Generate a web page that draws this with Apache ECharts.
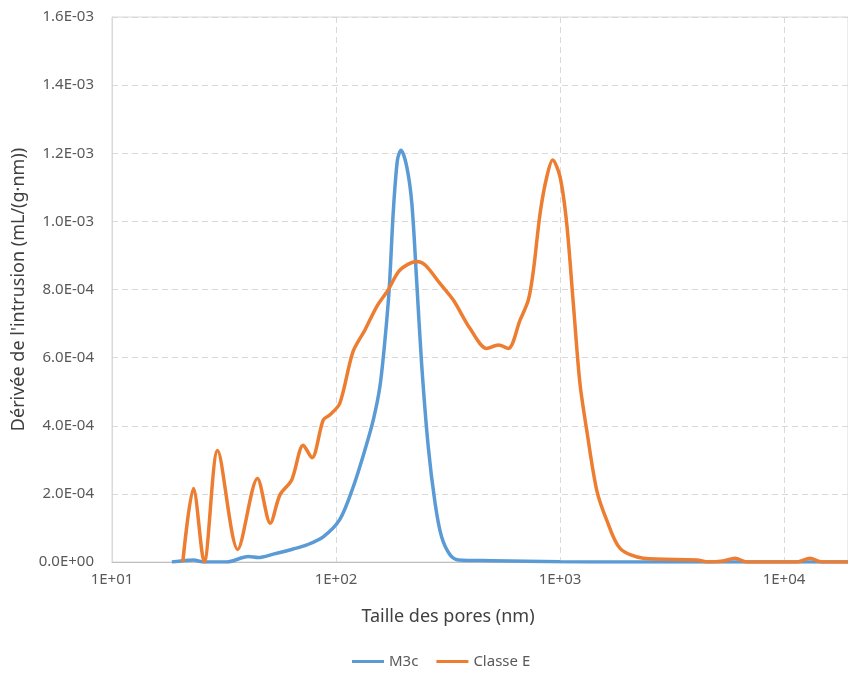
<!DOCTYPE html>
<html>
<head>
<meta charset="utf-8">
<script src="https://cdn.jsdelivr.net/npm/echarts@6/dist/echarts.min.js"></script>
<style>
  html, body { margin: 0; padding: 0; background: #ffffff; }
  #chart { width: 848px; height: 675px; }
</style>
</head>
<body>
<div id="chart"></div>
<script>
// Pore size (nm) and intrusion derivative (mL/(g·nm)) for each sample
const m3cSize = [18.5, 23.1, 25.6, 32.5, 40.6, 45, 52.5, 64.4, 74, 87.7, 104, 119.4, 134.6, 146.7, 157, 165.4, 173, 180, 188, 195, 207, 218, 229, 241, 258, 277, 296, 323, 352, 500, 1000, 2000, 19300];
const m3cValue = [0, 6e-6, 0, 0, 1.6e-5, 1.3e-5, 2.3e-5, 3.8e-5, 5.0e-5, 7.4e-5, 1.25e-4, 2.21e-4, 3.29e-4, 4.17e-4, 5.15e-4, 6.52e-4, 8.08e-4, 1.024e-3, 1.18e-3, 1.209e-3, 1.16e-3, 1.053e-3, 8.28e-4, 5.83e-4, 3.39e-4, 1.72e-4, 7.4e-5, 2.1e-5, 6e-6, 4e-6, 1e-6, 0, 0];

const classeESize = [20.7, 23.1, 25.8, 29.6, 36.4, 44.6, 50.9, 56.2, 63.4, 71.4, 78.1, 87.7, 94, 104, 119, 134.6, 152, 171, 193, 229, 250, 291, 334, 396, 471, 531, 588, 663, 722, 761, 815, 873, 927, 1000, 1071, 1146, 1227, 1315, 1458, 1616, 1854, 2356, 4074, 4592, 5346, 6039, 6808, 11400, 13060, 14720, 19300];
const classeEValue = [0, 2.16e-4, 0, 3.27e-4, 3.7e-5, 2.45e-4, 1.14e-4, 1.97e-4, 2.41e-4, 3.43e-4, 3.06e-4, 4.17e-4, 4.32e-4, 4.66e-4, 6.17e-4, 6.81e-4, 7.5e-4, 7.99e-4, 8.57e-4, 8.82e-4, 8.72e-4, 8.18e-4, 7.69e-4, 6.86e-4, 6.27e-4, 6.37e-4, 6.27e-4, 7.1e-4, 7.69e-4, 8.57e-4, 1.024e-3, 1.131e-3, 1.18e-3, 1.131e-3, 9.94e-4, 7.6e-4, 5.25e-4, 3.88e-4, 2.11e-4, 1.23e-4, 4.0e-5, 1.1e-5, 6e-6, 0, 3e-6, 1.1e-5, 0, 0, 1.1e-5, 0, 0];

const seriesNames = ['M3c', 'Classe E'];
const xAxisTitle = 'Taille des pores (nm)';
const yAxisTitle = "Dérivée de l'intrusion (mL/(g·nm))";

const zip = (xs, ys) => xs.map((x, i) => [x, ys[i]]);

// Scientific notation like "1.2E-03"
function sci(v) {
  if (v === 0) return '0.0E+00';
  const e = Math.floor(Math.log10(Math.abs(v)) + 1e-9);
  const m = v / Math.pow(10, e);
  const sign = e < 0 ? '-' : '+';
  const abs = Math.abs(e);
  return m.toFixed(1) + 'E' + sign + (abs < 10 ? '0' : '') + abs;
}

// Only whole decades get a label, e.g. "1E+02"
function decadeLabel(v) {
  const l = Math.log10(v);
  const r = Math.round(l);
  if (Math.abs(l - r) > 1e-6) return '';
  return '1E' + (r < 0 ? '-' : '+') + (Math.abs(r) < 10 ? '0' : '') + Math.abs(r);
}

const font = 'Noto Sans';
const lineWidth = 3.5;
const chart = echarts.init(document.getElementById('chart'), null, { renderer: 'canvas' });

chart.setOption({
  animation: false,
  backgroundColor: '#ffffff',
  textStyle: { fontFamily: font },
  grid: {
    left: 112, right: 0, top: 17, bottom: 113,
    show: true, borderColor: '#d9d9d9', borderWidth: 1, backgroundColor: 'transparent'
  },
  legend: {
    bottom: 6,
    left: 352,
    padding: 0,
    data: seriesNames,
    icon: 'rect',
    itemWidth: 32,
    itemHeight: 3,
    itemGap: 18,
    textStyle: { fontFamily: font, fontSize: 15, color: '#595959' }
  },
  xAxis: {
    type: 'log',
    logBase: 10,
    min: 10,
    max: 19300,
    name: xAxisTitle,
    nameLocation: 'middle',
    nameGap: 46,
    nameTextStyle: { fontFamily: font, fontSize: 18, color: '#404040', padding: [0, 64, 0, 0] },
    axisLine: { show: true, lineStyle: { color: '#bfbfbf', width: 1 } },
    axisTick: { show: false },
    minorTick: { show: false },
    axisLabel: {
      margin: 10,
      fontFamily: font, fontSize: 15, color: '#595959',
      showMaxLabel: false,
      formatter: decadeLabel
    },
    splitLine: { show: true, lineStyle: { color: '#d9d9d9', type: [6, 4], width: 1 } }
  },
  yAxis: {
    type: 'value',
    min: 0,
    max: 1.6e-3,
    interval: 2e-4,
    name: yAxisTitle,
    nameLocation: 'middle',
    nameGap: 84,
    nameTextStyle: { fontFamily: font, fontSize: 18, color: '#404040' },
    axisLine: { show: true, lineStyle: { color: '#d9d9d9', width: 1 } },
    axisTick: { show: false },
    axisLabel: {
      margin: 18,
      fontFamily: font, fontSize: 15, color: '#595959',
      formatter: sci
    },
    splitLine: { show: true, lineStyle: { color: '#d9d9d9', type: [6, 4], width: 1 } }
  },
  series: [
    {
      name: seriesNames[0],
      type: 'line',
      data: zip(m3cSize, m3cValue),
      smooth: 0.3,
      symbol: 'none',
      lineStyle: { color: '#5b9bd5', width: lineWidth },
      itemStyle: { color: '#5b9bd5' },
      z: 2
    },
    {
      name: seriesNames[1],
      type: 'line',
      data: zip(classeESize, classeEValue),
      smooth: 0.3,
      symbol: 'none',
      lineStyle: { color: '#ed7d31', width: lineWidth },
      itemStyle: { color: '#ed7d31' },
      z: 3
    }
  ]
});
</script>
</body>
</html>
